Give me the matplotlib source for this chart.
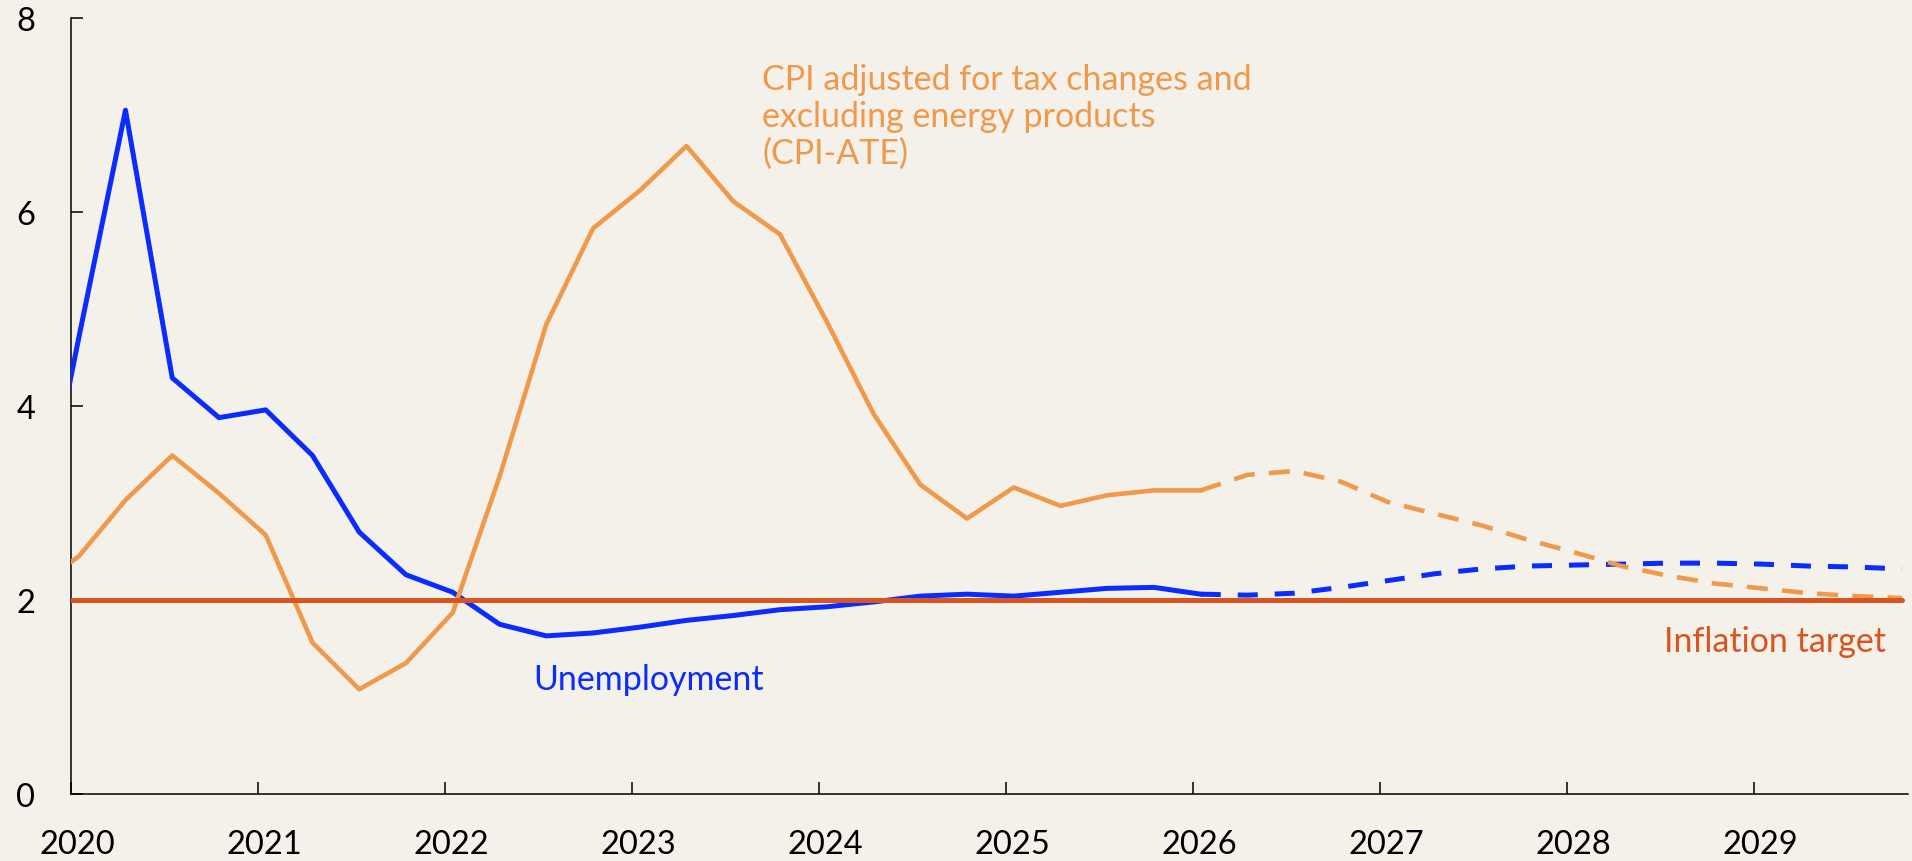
import matplotlib
matplotlib.use("Agg")
import matplotlib.pyplot as plt
import matplotlib.transforms as mtransforms

# quarterly data, 2019Q4 .. 2029Q4
quarters = (["2019Q4"] + [f"{y}Q{q}" for y in range(2020, 2030) for q in range(1, 5)])

unemployment = [2.3, 4.7, 7.05, 4.29, 3.88, 3.96, 3.49, 2.70, 2.26,
                2.08, 1.75, 1.63, 1.66, 1.72, 1.79, 1.84, 1.90,
                1.93, 1.98, 2.04, 2.06, 2.04, 2.08, 2.12, 2.13,
                2.06, 2.05, 2.07, 2.13, 2.20, 2.27, 2.32, 2.35,
                2.36, 2.37, 2.38, 2.38, 2.37, 2.35, 2.34, 2.32]

cpi_ate = [2.1, 2.45, 3.03, 3.49, 3.10, 2.67, 1.56, 1.08, 1.35,
           1.87, 3.27, 4.84, 5.83, 6.22, 6.68, 6.11, 5.77,
           4.87, 3.92, 3.19, 2.84, 3.16, 2.97, 3.08, 3.13,
           3.13, 3.29, 3.33, 3.22, 3.01, 2.89, 2.77, 2.62,
           2.49, 2.35, 2.25, 2.17, 2.12, 2.07, 2.04, 2.02]

inflation_target = [2.0] * len(quarters)

last_actual = "2026Q1"
year_ticks = list(range(2020, 2030))

BG = "#F4F1EA"
BLUE = "#0A2CFF"
ORANGE = "#F0994B"
RED = "#D9541E"


def qpos(label):
    # points sit roughly half a month into each quarter
    return int(label[:4]) + (int(label[-1]) - 1) * 0.25 + 0.044


x = [qpos(q) for q in quarters]
cut = quarters.index(last_actual) + 1

plt.rcParams['font.family'] = ['Lato', 'DejaVu Sans']

fig = plt.figure(figsize=(19.12, 8.62), dpi=100, facecolor=BG)
ax = fig.add_axes([70.5 / 1912, 67 / 862, (1908 - 70.5) / 1912, (795 - 19) / 862])
ax.set_facecolor(BG)

ax.plot(x[:cut], unemployment[:cut], color=BLUE, lw=3.6, solid_joinstyle='round', zorder=3)
ax.plot(x[cut - 1:], unemployment[cut - 1:], color=BLUE, lw=3.6, dashes=(4, 3.4), zorder=3)
ax.plot(x[:cut], cpi_ate[:cut], color=ORANGE, lw=3.3, solid_joinstyle='round', zorder=3)
ax.plot(x[cut - 1:], cpi_ate[cut - 1:], color=ORANGE, lw=3.3, dashes=(4.6, 3.1), zorder=3)
ax.plot(x, inflation_target, color=RED, lw=3.6, solid_capstyle='round', zorder=4)

ax.set_xlim(2020, 2029.826)
ax.set_ylim(0, 8)
ax.set_yticks([0, 2, 4, 6, 8])
ax.set_xticks(year_ticks)
ax.set_xticklabels([str(y) for y in year_ticks])

for s in ["top", "right"]:
    ax.spines[s].set_visible(False)
for s in ["left", "bottom"]:
    ax.spines[s].set_linewidth(1.1)
    ax.spines[s].set_color("black")

ax.tick_params(axis='both', direction='in', length=8.6, width=1.1, labelsize=23.5, colors='black')
ax.tick_params(axis='y', pad=25.5)
ax.tick_params(axis='x', pad=25)
shift = mtransforms.ScaledTranslation(7 / 100, 0, fig.dpi_scale_trans)
for lab in ax.get_xticklabels():
    lab.set_transform(lab.get_transform() + shift)

ax.text(2023.698, 7.54, "CPI adjusted for tax changes and\nexcluding energy products\n(CPI-ATE)",
        color=ORANGE, fontsize=24.5, ha='left', va='top', linespacing=1.2)
ax.text(2022.473, 1.08, "Unemployment", color=BLUE, fontsize=24.5, ha='left', va='baseline')
ax.text(2029.71, 1.47, "Inflation target", color=RED, fontsize=24.5, ha='right', va='baseline')

fig.savefig("out.png", dpi=100, facecolor=BG)
